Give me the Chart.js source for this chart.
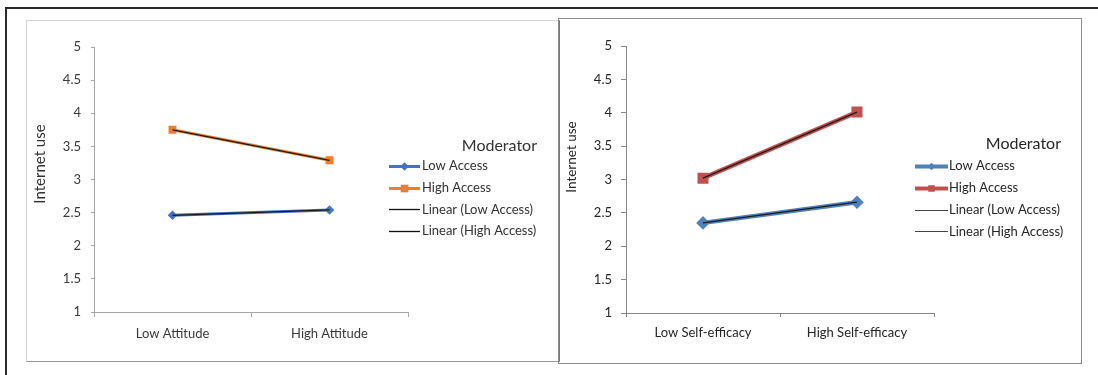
<!DOCTYPE html>
<html>
<head>
<meta charset="utf-8">
<script src="https://cdn.jsdelivr.net/npm/chart.js@4/dist/chart.umd.min.js"></script>
<style>
  html, body { margin: 0; padding: 0; background: #ffffff; }
  #page { position: relative; width: 1098px; height: 375px; overflow: hidden; background: #fff; }
  .frame-top { position: absolute; left: 6px; top: 7px; width: 1092px; height: 0; border-top: 2px solid #2b2b2b; }
  .frame-left { position: absolute; left: 5px; top: 7px; width: 0; height: 368px; border-left: 2px solid #2b2b2b; }
  .panel { position: absolute; box-sizing: border-box; }
  #panelA { left: 26px; top: 20px; width: 534px; height: 342px; border: 1px solid #d4d4d4; border-right: 2px solid #7a7a7a; border-bottom-color: #9a9a9a; }
  #panelB { left: 558px; top: 18px; width: 524px; height: 346px; border: 1px solid #8c8c8c; }
  canvas { position: absolute; }
</style>
</head>
<body>
<div id="page">
  <div class="frame-top"></div>
  <div class="frame-left"></div>
  <div class="panel" id="panelA"></div>
  <div class="panel" id="panelB"></div>
  <canvas id="chartA" width="531" height="340" style="left:27px; top:21px;"></canvas>
  <canvas id="chartB" width="521" height="342" style="left:559px; top:20px;"></canvas>
</div>
<script>
// ---- data ----
const attitudeLabels = ['Low Attitude', 'High Attitude'];
const attitudeLowAccess = [2.46, 2.54];
const attitudeHighAccess = [3.75, 3.29];

const efficacyLabels = ['Low Self-efficacy', 'High Self-efficacy'];
const efficacyLowAccess = [2.35, 2.66];
const efficacyHighAccess = [3.02, 4.01];

const yMin = 1;
const yMax = 5;
const yStep = 0.5;
const yTitle = 'Internet use';
const legendTitle = 'Moderator';
const seriesNames = ['Low Access', 'High Access'];

// least-squares straight line through a series (x = category index)
function linearFit(values) {
  const n = values.length;
  const xs = values.map((_, i) => i);
  const mx = xs.reduce((a, b) => a + b, 0) / n;
  const my = values.reduce((a, b) => a + b, 0) / n;
  let sxy = 0, sxx = 0;
  xs.forEach((x, i) => { sxy += (x - mx) * (values[i] - my); sxx += (x - mx) * (x - mx); });
  const slope = sxx ? sxy / sxx : 0;
  return xs.map(x => my + slope * (x - mx));
}

const FONT = 'Lato, "Open Sans", sans-serif';

function drawMarker(ctx, style, x, y, r) {
  ctx.beginPath();
  if (style === 'rectRot') {
    ctx.moveTo(x, y - r); ctx.lineTo(x + r, y); ctx.lineTo(x, y + r); ctx.lineTo(x - r, y);
  } else {
    const s = r * Math.SQRT1_2;
    ctx.rect(x - s, y - s, 2 * s, 2 * s);
  }
  ctx.closePath();
  ctx.fill();
}

// legend on the right + rotated y title
const panelDecor = {
  id: 'panelDecor',
  afterDraw(chart, args, o) {
    const ctx = chart.ctx;
    ctx.save();
    // y axis title
    ctx.save();
    ctx.translate(o.yTitleX, o.yTitleY);
    ctx.rotate(-Math.PI / 2);
    ctx.font = o.yTitleFont;
    ctx.fillStyle = o.color;
    ctx.textAlign = 'center';
    ctx.textBaseline = 'middle';
    ctx.fillText(o.yTitle, 0, 0);
    ctx.restore();
    // legend title
    ctx.font = o.titleFont;
    ctx.fillStyle = o.color;
    ctx.textAlign = 'right';
    ctx.textBaseline = 'middle';
    ctx.fillText(o.title, o.right, o.titleY);
    // legend entries
    ctx.font = o.font;
    ctx.textAlign = 'left';
    chart.data.datasets.forEach((ds, i) => {
      const y = o.top + i * o.row;
      ctx.strokeStyle = ds.legendColor || ds.borderColor;
      ctx.lineWidth = ds.legendLineWidth;
      ctx.beginPath();
      ctx.moveTo(o.lineX0, Math.round(y) + 0.5);
      ctx.lineTo(o.lineX1, Math.round(y) + 0.5);
      ctx.stroke();
      if (ds.legendPointRadius) {
        ctx.fillStyle = ds.pointBackgroundColor;
        drawMarker(ctx, ds.pointStyle, (o.lineX0 + o.lineX1) / 2, Math.round(y) + 0.5, ds.legendPointRadius);
      }
      ctx.fillStyle = o.color;
      ctx.fillText(ds.label, o.textX, y);
    });
    ctx.restore();
  }
};

function buildChart(id, cfg) {
  const canvas = document.getElementById(id);
  const W = canvas.width, H = canvas.height;
  const a = cfg.area;
  return new Chart(canvas, {
    type: 'line',
    data: {
      labels: cfg.labels,
      datasets: [
        {
          label: seriesNames[0], data: cfg.low, order: 2,
          borderColor: cfg.lowColor, backgroundColor: cfg.lowColor,
          borderWidth: cfg.seriesWidth, pointStyle: 'rectRot',
          pointRadius: cfg.diamondR, pointBackgroundColor: cfg.lowColor, pointBorderWidth: 0,
          legendLineWidth: cfg.legendSeriesWidth, legendPointRadius: cfg.legendDiamondR
        },
        {
          label: seriesNames[1], data: cfg.high, order: 2,
          borderColor: cfg.highColor, backgroundColor: cfg.highColor,
          borderWidth: cfg.seriesWidth, pointStyle: 'rect',
          pointRadius: cfg.squareR, pointBackgroundColor: cfg.highColor, pointBorderWidth: 0,
          legendLineWidth: cfg.legendSeriesWidth, legendPointRadius: cfg.legendSquareR
        },
        {
          label: 'Linear (' + seriesNames[0] + ')', data: linearFit(cfg.low), order: 1,
          borderColor: cfg.trendColor, borderWidth: cfg.trendWidth, pointRadius: 0,
          legendLineWidth: cfg.legendTrendWidth, legendColor: cfg.trendLegendColor
        },
        {
          label: 'Linear (' + seriesNames[1] + ')', data: linearFit(cfg.high), order: 1,
          borderColor: cfg.trendColor, borderWidth: cfg.trendWidth, pointRadius: 0,
          legendLineWidth: cfg.legendTrendWidth, legendColor: cfg.trendLegendColor
        }
      ]
    },
    options: {
      responsive: false,
      animation: false,
      devicePixelRatio: 1,
      events: [],
      layout: { padding: { left: 0, top: a.top, right: W - a.right, bottom: 0 } },
      plugins: {
        legend: { display: false },
        title: { display: false },
        tooltip: { enabled: false },
        panelDecor: cfg.decor
      },
      scales: {
        x: {
          type: 'category',
          offset: true,
          grid: { display: true, offset: true, drawOnChartArea: false, drawTicks: true,
                  tickLength: cfg.xTick, color: cfg.axisColor },
          border: { display: true, color: cfg.axisColor, width: 1 },
          ticks: { font: { family: FONT, size: 13 }, color: cfg.textColor, padding: cfg.xPad, maxRotation: 0 },
          afterFit(scale) { scale.height = H - a.bottom; }
        },
        y: {
          min: yMin, max: yMax,
          grid: { display: true, drawOnChartArea: false, drawTicks: true,
                  tickLength: cfg.yTick, color: cfg.axisColor },
          border: { display: true, color: cfg.axisColor, width: 1 },
          ticks: {
            stepSize: yStep, font: { family: FONT, size: 13 }, color: cfg.textColor, padding: cfg.yPad,
            callback: (value) => String(Number(value))
          },
          afterFit(scale) { scale.width = a.left; }
        }
      }
    },
    plugins: [panelDecor]
  });
}

buildChart('chartA', {
  labels: attitudeLabels, low: attitudeLowAccess, high: attitudeHighAccess,
  area: { left: 67, top: 26, right: 381, bottom: 291 },
  lowColor: '#4472C4', highColor: '#ED7D31', trendColor: '#1a1a1a', trendLegendColor: '#111',
  seriesWidth: 3, trendWidth: 1.3, diamondR: 4.8, squareR: 5.6,
  legendSeriesWidth: 3, legendDiamondR: 4.2, legendSquareR: 5.4, legendTrendWidth: 1.3,
  axisColor: '#a6a6a6', textColor: '#3a3a3a',
  xTick: 5, xPad: 9, yTick: 3, yPad: 10,
  decor: {
    yTitle: yTitle, yTitleX: 13, yTitleY: 143, yTitleFont: '15px ' + FONT,
    title: legendTitle, titleFont: '16px ' + FONT, right: 510, titleY: 125,
    font: '13px ' + FONT, top: 145, row: 21.7, lineX0: 362, lineX1: 393, textX: 395,
    color: '#333333'
  }
});

buildChart('chartB', {
  labels: efficacyLabels, low: efficacyLowAccess, high: efficacyHighAccess,
  area: { left: 67, top: 26, right: 375, bottom: 293 },
  lowColor: '#4F81BD', highColor: '#C0504D', trendColor: '#1a1a1a', trendLegendColor: '#444',
  seriesWidth: 4.5, trendWidth: 1.2, diamondR: 6.8, squareR: 7.8,
  legendSeriesWidth: 4, legendDiamondR: 3.8, legendSquareR: 4.6, legendTrendWidth: 1,
  axisColor: '#868686', textColor: '#262626',
  xTick: 4, xPad: 8, yTick: 5, yPad: 9,
  decor: {
    yTitle: yTitle, yTitleX: 12.5, yTitleY: 137, yTitleFont: '13.5px ' + FONT,
    title: legendTitle, titleFont: '16px ' + FONT, right: 502, titleY: 124,
    font: '13px ' + FONT, top: 146, row: 21.8, lineX0: 356, lineX1: 389, textX: 390,
    color: '#262626'
  }
});
</script>
</body>
</html>
